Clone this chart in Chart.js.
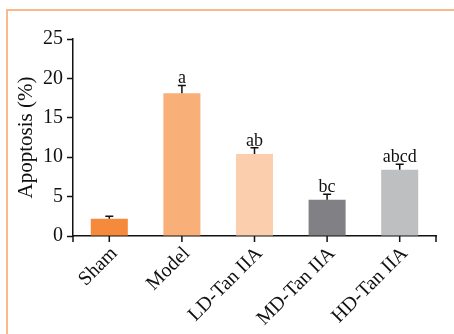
<!DOCTYPE html>
<html>
<head>
<meta charset="utf-8">
<script src="https://cdn.jsdelivr.net/npm/chart.js@4"></script>
<style>
  body { margin: 0; background: #fff; }
  #frame {
    position: absolute; left: 6px; top: 9px; width: 460px; height: 340px;
    border-left: 2px solid #fbb98a; border-top: 2px solid #fbb98a;
  }
  #wrap { position: absolute; left: 0; top: 0; width: 454px; height: 334px; }
</style>
</head>
<body>
<div id="frame"></div>
<div id="wrap"><canvas id="chart" width="454" height="334"></canvas></div>
<script>
const groups = ["Sham", "Model", "LD-Tan IIA", "MD-Tan IIA", "HD-Tan IIA"];
const apoptosis = [2.2, 18.1, 10.4, 4.6, 8.4];
const errors = [0.3, 1.0, 0.8, 0.7, 0.7];
const marks = ["", "a", "ab", "bc", "abcd"];
const barColors = ["#f58a3c", "#f8af78", "#fbcfae", "#818185", "#bebfc1"];
const yTicks = [0, 5, 10, 15, 20, 25];

const serif = "'Liberation Serif', 'DejaVu Serif', serif";

// error bars, letters and x tick marks
const extras = {
  id: 'extras',
  afterDatasetsDraw(chart) {
    const ctx = chart.ctx;
    const x = chart.scales.x, y = chart.scales.y;
    ctx.save();
    ctx.strokeStyle = '#111';
    ctx.lineWidth = 1.5;
    apoptosis.forEach((v, i) => {
      const cx = x.getPixelForValue(i);
      const top = y.getPixelForValue(v + errors[i]);
      ctx.beginPath();
      ctx.moveTo(cx, y.getPixelForValue(v));
      ctx.lineTo(cx, top);
      ctx.moveTo(cx - 4, top);
      ctx.lineTo(cx + 4, top);
      ctx.stroke();
      if (marks[i]) {
        ctx.fillStyle = '#111';
        ctx.font = '18px ' + serif;
        ctx.textAlign = 'center';
        ctx.textBaseline = 'alphabetic';
        ctx.fillText(marks[i], cx, top - 2);
      }
    });
    // x ticks at centers and edges
    const base = x.top;
    const pos = [x.left, x.right];
    groups.forEach((g, i) => pos.push(x.getPixelForValue(i)));
    ctx.beginPath();
    pos.forEach(p => { ctx.moveTo(p, base); ctx.lineTo(p, base + 6); });
    ctx.stroke();
    ctx.restore();
  }
};

new Chart(document.getElementById('chart'), {
  type: 'bar',
  data: {
    labels: groups,
    datasets: [{
      data: apoptosis,
      backgroundColor: barColors,
      borderWidth: 0,
      barPercentage: 0.51,
      categoryPercentage: 1
    }]
  },
  options: {
    responsive: false,
    animation: false,
    layout: { padding: { left: 14, top: 39, right: 18, bottom: 0 } },
    plugins: { legend: { display: false }, tooltip: { enabled: false } },
    scales: {
      x: {
        grid: { display: false, drawTicks: false },
        border: { color: '#111', width: 1.5 },
        ticks: {
          color: '#111', font: { family: serif, size: 20 },
          maxRotation: 45, minRotation: 45, padding: 6, labelOffset: 5
        },
        afterFit(s) { s.height = 98; }
      },
      y: {
        min: 0, max: 25,
        afterBuildTicks(s) { s.ticks = yTicks.map(v => ({ value: v })); },
        grid: { drawOnChartArea: false, tickLength: 6, tickColor: '#111', tickWidth: 1.5 },
        border: { color: '#111', width: 1.5 },
        ticks: { color: '#111', font: { family: serif, size: 20 }, padding: 4 },
        title: {
          display: true, text: 'Apoptosis (%)', color: '#111',
          font: { family: serif, size: 21 }, padding: { top: 0, bottom: 3 }
        },
        afterFit(s) { s.width = 59; }
      }
    }
  },
  plugins: [extras]
});
</script>
</body>
</html>
